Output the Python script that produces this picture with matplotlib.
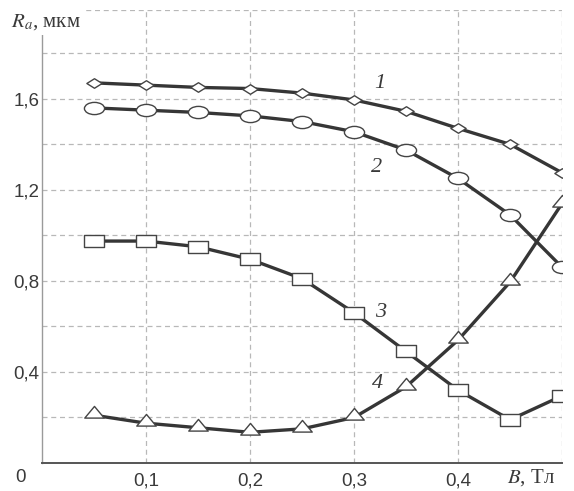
import matplotlib
matplotlib.use("Agg")
import matplotlib.pyplot as plt
import numpy as np
from matplotlib.path import Path

plt.rcParams["mathtext.fontset"] = "stix"

# data
b_field = [0.05, 0.10, 0.15, 0.20, 0.25, 0.30, 0.35, 0.40, 0.45, 0.50]
ra_1 = [1.67, 1.66, 1.65, 1.645, 1.625, 1.595, 1.545, 1.47, 1.40, 1.275]
ra_2 = [1.56, 1.55, 1.54, 1.525, 1.50, 1.455, 1.375, 1.25, 1.09, 0.86]
ra_3 = [0.975, 0.975, 0.95, 0.895, 0.81, 0.66, 0.49, 0.32, 0.19, 0.295]
ra_4 = [0.21, 0.175, 0.155, 0.135, 0.15, 0.20, 0.335, 0.54, 0.795, 1.14]
curve_names = ["1", "2", "3", "4"]
label_pos = [(0.325, 1.665), (0.322, 1.30), (0.326, 0.66), (0.323, 0.35)]
x_ticks = [0.1, 0.2, 0.3, 0.4]
x_ticklabels = ["0,1", "0,2", "0,3", "0,4"]
y_ticks = [0.2, 0.4, 0.6, 0.8, 1.0, 1.2, 1.4, 1.6, 1.8]
y_ticklabels = ["", "0,4", "", "0,8", "", "1,2", "", "1,6", ""]

# custom markers (wide diamond, ellipse, rectangle, flat triangle)
diamond = Path([(-1.6, 0), (0, 1), (1.6, 0), (0, -1), (-1.6, 0)],
               [Path.MOVETO, Path.LINETO, Path.LINETO, Path.LINETO, Path.CLOSEPOLY])
circ = Path.unit_circle()
ellipse = Path(circ.vertices * np.array([1.65, 1.0]), circ.codes)
rect = Path([(-1.55, -1), (1.55, -1), (1.55, 1), (-1.55, 1), (-1.55, -1)],
            [Path.MOVETO, Path.LINETO, Path.LINETO, Path.LINETO, Path.CLOSEPOLY])
tri = Path([(-1.5, -0.4), (1.5, -0.4), (0, 1.4), (-1.5, -0.4)],
           [Path.MOVETO, Path.LINETO, Path.LINETO, Path.CLOSEPOLY])

fig = plt.figure(figsize=(5.74, 4.91), dpi=100)
ax = fig.add_axes([0.0732, 0.057, 0.906, 0.9226])

line_col = "#363636"
grid_col = "#b8b8b8"
text_col = "#3a3a3a"

series = [(ra_1, diamond, 11), (ra_2, ellipse, 14.5), (ra_3, rect, 14), (ra_4, tri, 14)]
for vals, mk, ms in series:
    ax.plot(b_field, vals, color=line_col, lw=2.4, marker=mk, ms=ms,
            mfc="white", mec="#444444", mew=1.0, zorder=3)

for name, (lx, ly) in zip(curve_names, label_pos):
    ax.text(lx, ly, name, family="Liberation Serif", style="italic",
            fontsize=16, color=text_col, ha="center", va="center", zorder=4)

ax.set_xlim(0, 0.5)
ax.set_ylim(0, 1.99)
ax.set_xticks(x_ticks)
ax.set_xticklabels(x_ticklabels)
ax.set_yticks(y_ticks)
ax.set_yticklabels(y_ticklabels)
ax.tick_params(length=0, labelsize=13.5, labelcolor=text_col)
ax.tick_params(axis="x", pad=7)
ax.tick_params(axis="y", pad=2)
for lab in ax.get_xticklabels() + ax.get_yticklabels():
    lab.set_family("Liberation Sans")

ax.grid(True, color=grid_col, ls=(0, (4, 3)), lw=0.9)
ax.axhline(1.99, color=grid_col, ls=(0, (4, 3)), lw=0.9)
ax.axvline(0.5, color=grid_col, ls=(0, (4, 3)), lw=0.9)
ax.spines["top"].set_visible(False)
ax.spines["right"].set_visible(False)
ax.spines["left"].set_color("#9a9a9a")
ax.spines["left"].set_linewidth(1.0)
ax.spines["bottom"].set_color("#555555")
ax.spines["bottom"].set_linewidth(1.4)

# origin and axis titles
fig.text(0.036, 0.027, "0", family="Liberation Sans", fontsize=13.5,
         color=text_col, ha="center", va="center")
fig.text(0.02, 0.955, "$R_a$, мкм", family="Liberation Serif", fontsize=15,
         color=text_col, ha="left", va="center",
         bbox=dict(facecolor="white", edgecolor="none", pad=2))
fig.text(0.925, 0.027, "$B$, Тл", family="Liberation Serif", fontsize=15,
         color=text_col, ha="center", va="center")

fig.savefig("out.png", dpi=100, facecolor="white")
